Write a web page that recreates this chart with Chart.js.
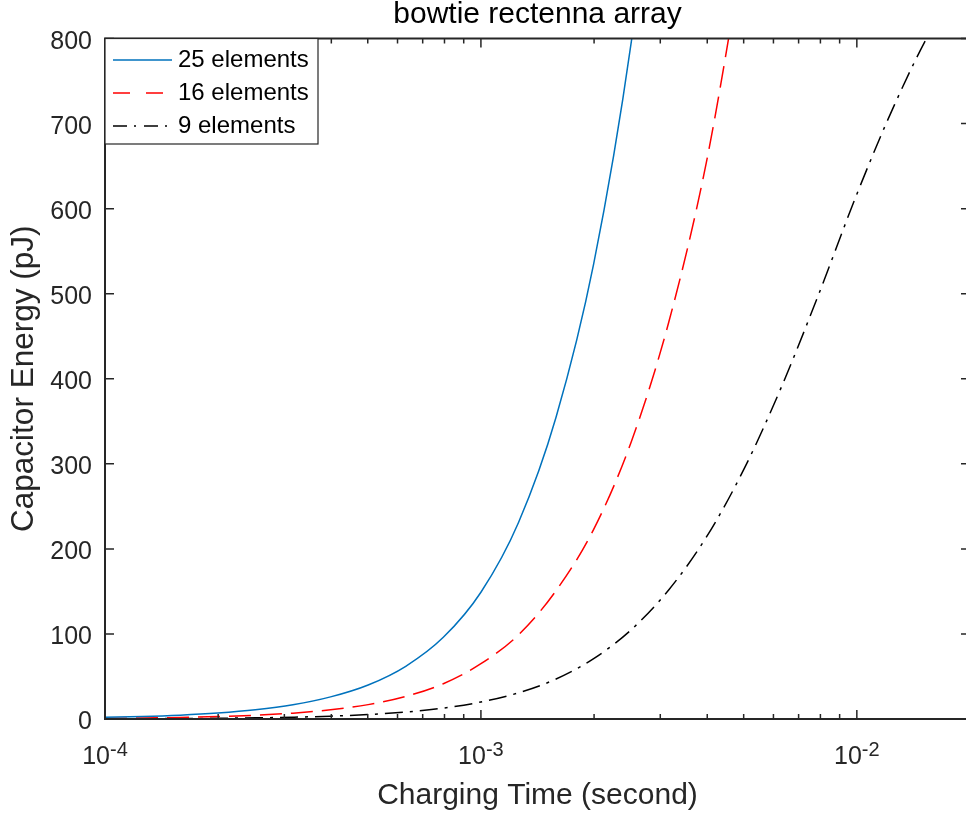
<!DOCTYPE html>
<html>
<head>
<meta charset="utf-8">
<title>bowtie rectenna array</title>
<script src="https://cdn.jsdelivr.net/npm/chart.js@4.4.0/dist/chart.umd.min.js"></script>
<style>
  html, body { margin: 0; padding: 0; background: #fff; overflow: hidden; }
  /* the right edge of the axes box sits just past the window, as in the original */
  #wrap { width: 966px; height: 818px; overflow: hidden; }
</style>
</head>
<body>
<div id="wrap"><canvas id="chart" width="975" height="818"></canvas></div>
<script>
// ================= DATA =================
const seriesLabels = ["25 elements", "16 elements", "9 elements"];

// charging time (s) and capacitor energy (pJ), one pair per curve
const time25   = [1.0e-4, 1.259e-4, 1.585e-4, 1.995e-4, 2.512e-4, 3.162e-4, 3.981e-4, 5.012e-4, 6.31e-4, 7.943e-4,
                  1.0e-3, 1.259e-3, 1.585e-3, 1.995e-3, 2.512e-3, 3.162e-3];
const energy25 = [2.0, 2.9, 4.5, 7.0, 10.8, 16.7, 26, 40, 62, 96,
                  149, 231, 355, 535, 796, 1160];

const time16   = [1.0e-4, 1.259e-4, 1.585e-4, 1.995e-4, 2.512e-4, 3.162e-4, 3.981e-4, 5.012e-4, 6.31e-4, 7.943e-4,
                  1.0e-3, 1.259e-3, 1.585e-3, 1.995e-3, 2.512e-3, 3.162e-3, 3.981e-3, 5.012e-3];
const energy16 = [0.75, 1.15, 1.8, 2.8, 4.4, 6.9, 10.8, 16.9, 26.5, 41.5,
                  65, 99, 151, 223, 326, 467, 655, 907];

const time9    = [1.0e-4, 1.259e-4, 1.585e-4, 1.995e-4, 2.512e-4, 3.162e-4, 3.981e-4, 5.012e-4, 6.31e-4, 7.943e-4,
                  1.0e-3, 1.259e-3, 1.585e-3, 1.995e-3, 2.512e-3, 3.162e-3, 3.981e-3, 5.012e-3, 6.31e-3, 7.943e-3,
                  1.0e-2, 1.259e-2, 1.585e-2, 1.995e-2];
const energy9  = [0.22, 0.35, 0.55, 0.86, 1.35, 2.1, 3.3, 5.2, 8.2, 12.8,
                  20, 30.8, 47, 71, 105, 152, 214, 294, 391, 501,
                  617, 722, 812, 880];

// axis ticks
const xTicks = [1e-4, 2e-4, 3e-4, 4e-4, 5e-4, 6e-4, 7e-4, 8e-4, 9e-4,
                1e-3, 2e-3, 3e-3, 4e-3, 5e-3, 6e-3, 7e-3, 8e-3, 9e-3, 1e-2];
const yTicks = [0, 100, 200, 300, 400, 500, 600, 700, 800];

// ================= STYLE =================
const FONT = "'Liberation Sans', Arial, Helvetica, sans-serif";
const AXIS_COLOR = "#262626";

function toPoints(ts, es) {
  return ts.map((t, i) => ({ x: t, y: es[i] }));
}

function isDecade(v) {
  const l = Math.log10(v);
  return Math.abs(l - Math.round(l)) < 1e-9;
}

// MATLAB style box: inward ticks on all sides, 10^n labels, legend in the corner
const matlabAxes = {
  id: 'matlabAxes',
  afterDatasetsDraw(chart) {
    const { ctx, chartArea: a, scales: { x, y } } = chart;
    ctx.save();
    ctx.strokeStyle = AXIS_COLOR;
    ctx.setLineDash([]);

    // tick marks
    ctx.lineWidth = 1.5;
    ctx.beginPath();
    xTicks.forEach(v => {
      const px = x.getPixelForValue(v);
      const len = isDecade(v) ? 9 : 5;
      ctx.moveTo(px, a.bottom); ctx.lineTo(px, a.bottom - len);
      ctx.moveTo(px, a.top);    ctx.lineTo(px, a.top + len);
    });
    yTicks.forEach(v => {
      const py = y.getPixelForValue(v);
      ctx.moveTo(a.left, py);  ctx.lineTo(a.left + 9, py);
      ctx.moveTo(a.right, py); ctx.lineTo(a.right - 9, py);
    });
    ctx.stroke();

    // box
    ctx.lineWidth = 2;
    ctx.strokeRect(a.left, a.top, a.right - a.left, a.bottom - a.top);

    // x tick labels as 10 with a raised exponent
    ctx.fillStyle = AXIS_COLOR;
    ctx.textBaseline = 'alphabetic';
    ctx.textAlign = 'left';
    xTicks.filter(isDecade).forEach(v => {
      const px = x.getPixelForValue(v);
      const base = '10';
      const sup = String(Math.round(Math.log10(v)));
      ctx.font = `25px ${FONT}`;
      const wb = ctx.measureText(base).width;
      ctx.font = `20px ${FONT}`;
      const ws = ctx.measureText(sup).width;
      const x0 = px - (wb + ws) / 2;
      ctx.font = `25px ${FONT}`;
      ctx.fillText(base, x0, a.bottom + 45);
      ctx.font = `20px ${FONT}`;
      ctx.fillText(sup, x0 + wb, a.bottom + 37);
    });

    // legend
    const lx = a.left, ly = a.top, lw = 213, lh = 105.5;
    ctx.fillStyle = '#fff';
    ctx.fillRect(lx, ly, lw, lh);
    ctx.strokeStyle = AXIS_COLOR;
    ctx.lineWidth = 1.2;
    ctx.strokeRect(lx, ly, lw, lh);
    ctx.font = `24px ${FONT}`;
    ctx.textBaseline = 'middle';
    chart.data.datasets.forEach((ds, i) => {
      const ry = ly + 21.5 + i * 33;
      ctx.strokeStyle = ds.borderColor;
      ctx.lineWidth = ds.borderWidth;
      ctx.setLineDash(ds.legendDash);
      ctx.beginPath();
      ctx.moveTo(lx + 8, ry);
      ctx.lineTo(lx + 67, ry);
      ctx.stroke();
      ctx.setLineDash([]);
      ctx.fillStyle = '#000';
      ctx.fillText(ds.label, lx + 73, ry);
    });

    ctx.restore();
  }
};

// ================= CHART =================
const ctx = document.getElementById('chart').getContext('2d');
new Chart(ctx, {
  type: 'line',
  data: {
    datasets: [
      {
        label: seriesLabels[0],
        data: toPoints(time25, energy25),
        borderColor: '#0072BD',
        borderWidth: 1.5,
        borderDash: [],
        legendDash: [],
        pointRadius: 0,
        cubicInterpolationMode: 'monotone',
        fill: false
      },
      {
        label: seriesLabels[1],
        data: toPoints(time16, energy16),
        borderColor: '#FF0000',
        borderWidth: 1.5,
        borderDash: [22, 9],
        legendDash: [17, 16],
        pointRadius: 0,
        cubicInterpolationMode: 'monotone',
        fill: false
      },
      {
        label: seriesLabels[2],
        data: toPoints(time9, energy9),
        borderColor: '#000000',
        borderWidth: 1.5,
        borderDash: [18, 7, 3, 7],
        legendDash: [14, 7, 2, 8],
        pointRadius: 0,
        cubicInterpolationMode: 'monotone',
        fill: false
      }
    ]
  },
  options: {
    responsive: false,
    animation: false,
    devicePixelRatio: 1,
    layout: { padding: { left: 0, top: 0, right: 5, bottom: 0 } },
    plugins: {
      legend: { display: false },
      tooltip: { enabled: false },
      title: {
        display: true,
        fullSize: false,
        text: 'bowtie rectenna array',
        color: '#000',
        font: { family: FONT, size: 30, weight: 'normal', lineHeight: 1 },
        padding: { top: 0, bottom: 8.5 }
      }
    },
    scales: {
      x: {
        type: 'logarithmic',
        min: 1e-4,
        max: 0.02,
        grid: { display: false, drawTicks: false },
        border: { display: false },
        ticks: { display: false },
        afterBuildTicks: s => { s.ticks = xTicks.map(v => ({ value: v })); },
        afterFit: s => { s.height = 99; },
        title: {
          display: true,
          text: 'Charging Time (second)',
          color: AXIS_COLOR,
          font: { family: FONT, size: 30 },
          padding: { top: 0, bottom: 4 }
        }
      },
      y: {
        min: 0,
        max: 800,
        grid: { display: false, drawTicks: false },
        border: { display: false },
        afterBuildTicks: s => { s.ticks = yTicks.map(v => ({ value: v })); },
        afterFit: s => { s.width = 105; },
        ticks: {
          color: AXIS_COLOR,
          font: { family: FONT, size: 25 },
          padding: 13,
          labelOffset: 3.5
        },
        title: {
          display: true,
          text: 'Capacitor Energy (pJ)',
          color: AXIS_COLOR,
          font: { family: FONT, size: 31.5 },
          padding: { top: 5, bottom: 0 }
        }
      }
    }
  },
  plugins: [matlabAxes]
});
</script>
</body>
</html>
